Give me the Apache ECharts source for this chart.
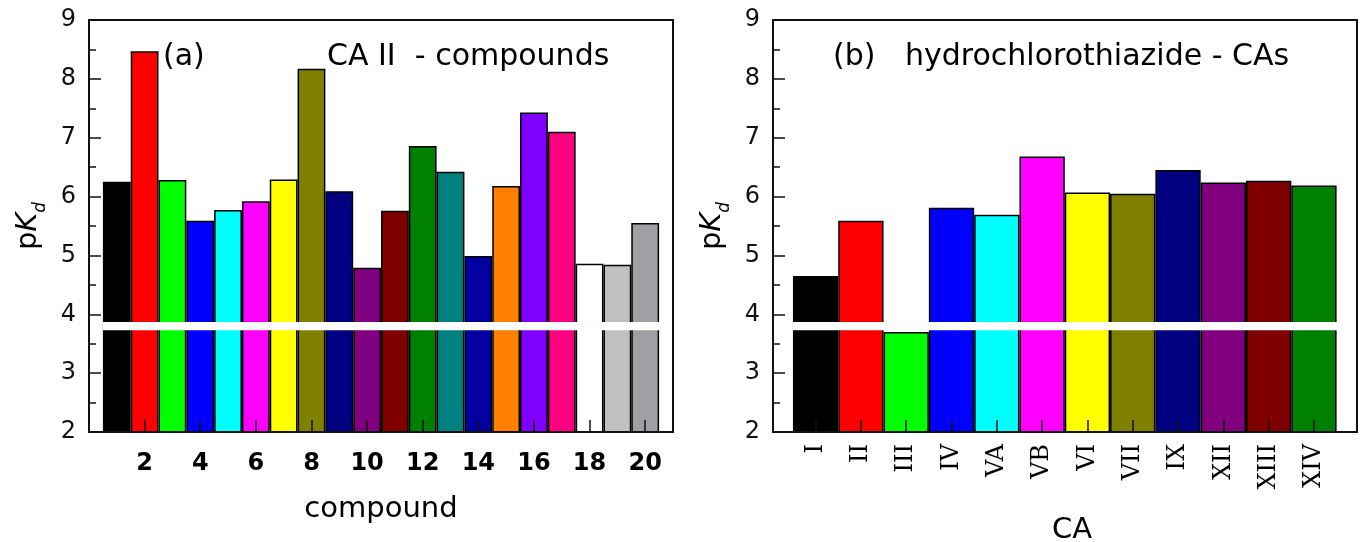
<!DOCTYPE html>
<html><head><meta charset="utf-8">
<script src="https://cdn.jsdelivr.net/npm/echarts@6/dist/echarts.min.js"></script>
<style>html,body{margin:0;padding:0;background:#fff}#c{width:1361px;height:542px}</style>
</head><body><div id="c"></div>
<script>
// ---- data: panel (a) CA II - compounds ----
const compoundIds = [1,2,3,4,5,6,7,8,9,10,11,12,13,14,15,16,17,18,19,20];
const compoundPKd = [6.25,8.47,6.28,5.59,5.77,5.92,6.29,8.17,6.09,4.79,5.76,6.86,6.42,4.99,6.18,7.43,7.10,4.86,4.84,5.55];
const compoundColors = ['#000000','#ff0000','#00ff00','#0000ff','#00ffff','#ff00ff','#ffff00','#808000','#000080','#800080',
                        '#800000','#008000','#008080','#0000a0','#ff8000','#8000ff','#ff0080','#ffffff','#c0c0c0','#a0a0a4'];
const compoundTickLabels = [2,4,6,8,10,12,14,16,18,20];
// ---- data: panel (b) hydrochlorothiazide - CAs ----
const caNames = ['I','II','III','IV','VA','VB','VI','VII','IX','XII','XIII','XIV'];
const caPKd = [4.65,5.59,3.70,5.81,5.69,6.68,6.07,6.05,6.45,6.24,6.27,6.19];
const caColors = ['#000000','#ff0000','#00ff00','#0000ff','#00ffff','#ff00ff','#ffff00','#808000','#000080','#800080','#800000','#008000'];
const caPositions = caNames.map((n,i)=>i+1);
// axis break band (white strip), in pK_d units
const breakBand = [3.73, 3.87];

const FONT = 'DejaVu Sans';
const chart = echarts.init(document.getElementById('c'), null, {renderer:'canvas'});

function yAxisCfg(gridIndex){
  return {
    type:'value', gridIndex, min:2, max:9, interval:1, z:10,
    name:'{p|p}{k|K}{d|d}', nameLocation:'middle', nameRotate:90, nameGap:44,
    nameTextStyle:{ rich:{
      p:{fontFamily:FONT,fontSize:29,color:'#000',lineHeight:34,verticalAlign:'middle'},
      k:{fontFamily:FONT,fontSize:29,fontStyle:'italic',color:'#000',lineHeight:34,verticalAlign:'middle'},
      d:{fontFamily:FONT,fontSize:17,fontStyle:'italic',color:'#000',lineHeight:34,verticalAlign:'bottom',padding:[0,0,-4,0]}
    }},
    axisLine:{show:true,lineStyle:{color:'#111',width:2}},
    axisTick:{show:true,inside:true,length:12,lineStyle:{color:'#111',width:1.5}},
    minorTick:{show:true,splitNumber:2,length:7,lineStyle:{color:'#111',width:1.5}},
    axisLabel:{fontFamily:FONT,fontSize:24,color:'#111',margin:13},
    splitLine:{show:false}
  };
}

// white break strip drawn through the library's scales
function bandSeries(axisIndex, xFrom, xTo){
  return {
    type:'custom', xAxisIndex:axisIndex, yAxisIndex:axisIndex, z:6, silent:true,
    data:[[xFrom, xTo, breakBand[0], breakBand[1]]],
    renderItem:(params, api)=>{
      const p0 = api.coord([api.value(0), api.value(3)]);
      const p1 = api.coord([api.value(1), api.value(2)]);
      return {type:'rect', shape:{x:p0[0], y:p0[1], width:p1[0]-p0[0], height:p1[1]-p0[1]},
              style:{fill:'#ffffff', shadowBlur:1.5, shadowColor:'rgba(0,0,0,0.12)'}};
    }
  };
}

const option = {
  backgroundColor:'#fff',
  animation:false,
  grid:[
    {left:89, top:20, width:584, height:412, show:true, borderColor:'#111', borderWidth:2, backgroundColor:'transparent',
     containLabel:false, outerBoundsMode:'none'},
    {left:773, top:20, width:584, height:412, show:true, borderColor:'#111', borderWidth:2, backgroundColor:'transparent',
     containLabel:false, outerBoundsMode:'none'}
  ],
  xAxis:[
    { type:'value', gridIndex:0, min:0, max:21, z:10,
      name:'compound', nameLocation:'middle', nameGap:63,
      nameTextStyle:{fontFamily:FONT,fontSize:29,color:'#000'},
      axisLine:{show:true,lineStyle:{color:'#111',width:2}},
      axisTick:{show:true,inside:true,length:12,customValues:compoundTickLabels,lineStyle:{color:'#111',width:1.5}},
      axisLabel:{fontFamily:FONT,fontSize:24,fontWeight:'bold',color:'#000',margin:20,customValues:compoundTickLabels},
      splitLine:{show:false}
    },
    { type:'value', gridIndex:1, min:0.06, max:12.95, z:10,
      name:'CA', nameLocation:'middle', nameGap:84,
      nameTextStyle:{fontFamily:FONT,fontSize:29,color:'#000',padding:[0,0,0,14]},
      axisLine:{show:true,lineStyle:{color:'#111',width:2}},
      axisTick:{show:true,inside:true,length:12,customValues:caPositions,lineStyle:{color:'#111',width:1.5}},
      axisLabel:{fontFamily:'DejaVu Serif',fontSize:24,color:'#000',rotate:90,margin:12,customValues:caPositions,
        formatter:(v)=>caNames[Math.round(v)-1] || ''},
      splitLine:{show:false}
    }
  ],
  yAxis:[ yAxisCfg(0), yAxisCfg(1) ],
  series:[
    { type:'bar', xAxisIndex:0, yAxisIndex:0, barWidth:'100%', z:2,
      itemStyle:{borderColor:'#000',borderWidth:1.5},
      data: compoundIds.map((x,i)=>({value:[x, compoundPKd[i]], itemStyle:{color:compoundColors[i]}}))
    },
    { type:'bar', xAxisIndex:1, yAxisIndex:1, barWidth:'100%', z:2,
      itemStyle:{borderColor:'#000',borderWidth:1.5},
      data: caPositions.map((x,i)=>({value:[x, caPKd[i]], itemStyle:{color:caColors[i]}}))
    },
    bandSeries(0, compoundIds[0]-0.5, compoundIds[compoundIds.length-1]+0.6),
    bandSeries(1, caPositions[0]-0.5, caPositions[caPositions.length-1]+0.53)
  ],
  graphic:[
    {type:'text', left:163, top:42, z:20, style:{text:'(a)', fontFamily:FONT, fontSize:30, fill:'#000'}},
    {type:'text', left:327, top:42, z:20, style:{text:'CA II  - compounds', fontFamily:FONT, fontSize:30, fill:'#000'}},
    {type:'text', left:833, top:42, z:20, style:{text:'(b)', fontFamily:FONT, fontSize:30, fill:'#000'}},
    {type:'text', left:905, top:42, z:20, style:{text:'hydrochlorothiazide - CAs', fontFamily:FONT, fontSize:30, fill:'#000'}}
  ]
};
chart.setOption(option);
</script></body></html>
